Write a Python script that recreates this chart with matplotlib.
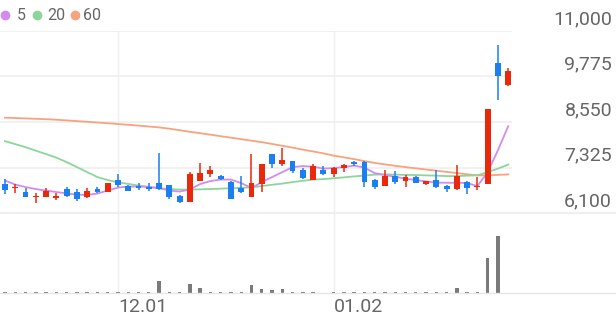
import matplotlib
matplotlib.use("Agg")
import matplotlib.pyplot as plt
import matplotlib.transforms as mtransforms
from matplotlib.lines import Line2D
import numpy as np

plt.rcParams['font.family'] = ['Roboto', 'DejaVu Sans']

# daily candles (50 sessions)
opens = [6870, 6760, 6670, 6520, 6540, 6500, 6740, 6670, 6520, 6740,
         6670, 6990, 6830, 6830, 6810, 6900, 6850, 6560, 6400, 6970,
         7150, 7100, 6940, 6760, 6540, 6880, 7690, 7420, 7500, 7260,
         6990, 7270, 7140, 7300, 7460, 7480, 6990, 6830, 7090, 6970,
         7080, 6870, 6990, 6830, 6740, 6940, 6790, 6880, 10150, 9540]
highs = [7010, 6870, 6760, 6650, 6760, 6650, 6810, 6740, 6760, 6810,
         6910, 7150, 6850, 6900, 6910, 7720, 6860, 6580, 7210, 7450,
         7360, 7120, 6950, 7090, 7690, 7430, 7700, 7840, 7510, 7300,
         7420, 7360, 7330, 7430, 7500, 7500, 7010, 7260, 7240, 7120,
         7090, 6970, 7260, 6850, 7400, 6950, 7070, 8910, 10610, 10010]
lows = [6610, 6630, 6520, 6380, 6520, 6450, 6540, 6430, 6510, 6630,
        6660, 6810, 6680, 6720, 6700, 6730, 6470, 6380, 6390, 6960,
        7060, 6990, 6480, 6630, 6530, 6670, 7300, 7360, 7190, 7020,
        6980, 7120, 7080, 7210, 7360, 6810, 6740, 6820, 6880, 6790,
        6900, 6850, 6780, 6670, 6730, 6600, 6720, 6870, 9140, 9530]
closes = [6720, 6810, 6540, 6560, 6700, 6560, 6560, 6490, 6700, 6660,
          6900, 6850, 6700, 6760, 6750, 6740, 6540, 6390, 7140, 7180,
          7260, 7010, 6490, 6670, 6900, 7420, 7430, 7520, 7240, 7030,
          7360, 7150, 7300, 7390, 7410, 6940, 6790, 7090, 6940, 7080,
          6910, 6960, 6790, 6750, 7090, 6760, 6830, 8890, 9780, 9920]

# moving averages as shown
ma5 = [6973, 6866, 6798, 6745, 6704, 6664, 6629, 6592, 6589, 6624,
       6704, 6785, 6812, 6812, 6806, 6772, 6704, 6677, 6731, 6879,
       6960, 7000, 7000, 6906, 6772, 6933, 7067, 7201, 7336, 7362,
       7349, 7295, 7309, 7336, 7376, 7322, 7174, 7121, 7075, 7027,
       6986, 6951, 6919, 6914, 6914, 6906, 6825, 7201, 7792, 8437]
ma20 = [8034, 7953, 7873, 7779, 7685, 7591, 7470, 7336, 7201, 7067,
        6986, 6925, 6884, 6839, 6798, 6763, 6745, 6731, 6731, 6737,
        6745, 6755, 6766, 6777, 6793, 6825, 6860, 6892, 6933, 6968,
        7000, 7013, 7035, 7059, 7086, 7107, 7134, 7139, 7134, 7126,
        7121, 7113, 7105, 7094, 7094, 7105, 7115, 7201, 7295, 7403]
ma60 = [8665, 8657, 8646, 8636, 8625, 8611, 8593, 8574, 8555, 8536,
        8517, 8496, 8474, 8453, 8429, 8405, 8370, 8329, 8286, 8249,
        8209, 8168, 8128, 8088, 8047, 8007, 7959, 7910, 7859, 7806,
        7757, 7706, 7644, 7599, 7550, 7497, 7448, 7408, 7370, 7336,
        7303, 7271, 7239, 7207, 7174, 7142, 7113, 7113, 7126, 7140]

volume = [70, 70, 70, 70, 70, 70, 70, 70, 70, 70,
          70, 100, 70, 70, 70, 1170, 120, 100, 930, 500,
          150, 70, 100, 130, 770, 370, 270, 370, 70, 70,
          70, 40, 70, 70, 70, 120, 70, 120, 70, 70,
          70, 70, 120, 70, 470, 130, 130, 3500, 5700, 50]

yticks = [6100, 7325, 8550, 9775, 11000]
xlabels = {11: "12.01", 32: "01.02"}

RED = "#e8290b"
BLUE = "#1c7ff0"
C5, C20, C60 = "#d08cf0", "#8cd69c", "#f8a27e"
GRID = "#efefef"
TXT = "#666666"

W, H = 616, 321
fig = plt.figure(figsize=(W / 100, H / 100), dpi=100)

def px_axes(l, t, r, b):
    return fig.add_axes([l / W, 1 - b / H, (r - l) / W, (b - t) / H])

ax = px_axes(0, 31, 512, 213)
axv = px_axes(0, 213, 512, 293)

n = len(closes)
x = np.arange(n)
step = 10.27
xlim = (-5 / step, (512 - 5) / step)

for a in (ax, axv):
    a.set_xlim(*xlim)
    for s in a.spines.values():
        s.set_visible(False)
    a.set_xticks([])
    a.set_yticks([])
    for i in xlabels:
        a.axvline(i, color=GRID, lw=1, zorder=0)

ax.set_ylim(yticks[0], yticks[-1])
for v in yticks[1:]:
    ax.axhline(v, color=GRID, lw=1.2, zorder=0)

o = np.array(opens); c = np.array(closes)
hi = np.array(highs); lo = np.array(lows)
cols = [RED if cc >= oo else BLUE for oo, cc in zip(o, c)]
ax.vlines(x, lo, hi, colors=cols, lw=1.1, zorder=3)
body_lo = np.minimum(o, c)
body_h = np.maximum(np.abs(c - o), 25)
ax.bar(x, body_h, bottom=body_lo, width=0.57, color=cols, zorder=4)

ax.plot(x, ma60, color=C60, lw=1.3, zorder=2)
ax.plot(x, ma20, color=C20, lw=1.3, zorder=2)
ax.plot(x, ma5, color=C5, lw=1.3, zorder=2)

vol = np.array(volume)
axv.set_ylim(0, vol.max() * 80 / 57)
axv.bar(x, vol, width=0.33, color="#7a7a7a", zorder=3)

# separator and baseline across full width
fig.add_artist(Line2D([0, 1], [1 - 213 / H] * 2, color=GRID, lw=1.5))
fig.add_artist(Line2D([0, 1], [1 - 293 / H] * 2, color="#e6e6e6", lw=1))

# price labels on the right
tr = mtransforms.blended_transform_factory(fig.transFigure, ax.transData)
off = mtransforms.offset_copy(tr, fig=fig, y=3, units='dots')
for v in yticks:
    ax.text(612 / W, v, f"{v:,}", transform=off, ha='right', va='bottom',
            fontsize=14, color=TXT, clip_on=False)

# date labels
for i, lab in xlabels.items():
    fig.text((5 + i * step) / W, 1 - 307 / H, lab, ha='left', va='center',
             fontsize=14, color=TXT)

# legend
items = [(5, "5", C5, 17), (37, "20", C20, 47), (75, "60", C60, 83)]
for dx, lab, col, tx in items:
    fig.add_artist(Line2D([dx / W], [1 - 15 / H], marker='o', markersize=6,
                          color=col, linestyle='none'))
    fig.text(tx / W, 1 - 15 / H, lab, ha='left', va='center', fontsize=11.5,
             color=TXT)

fig.savefig("out.png", dpi=100)
